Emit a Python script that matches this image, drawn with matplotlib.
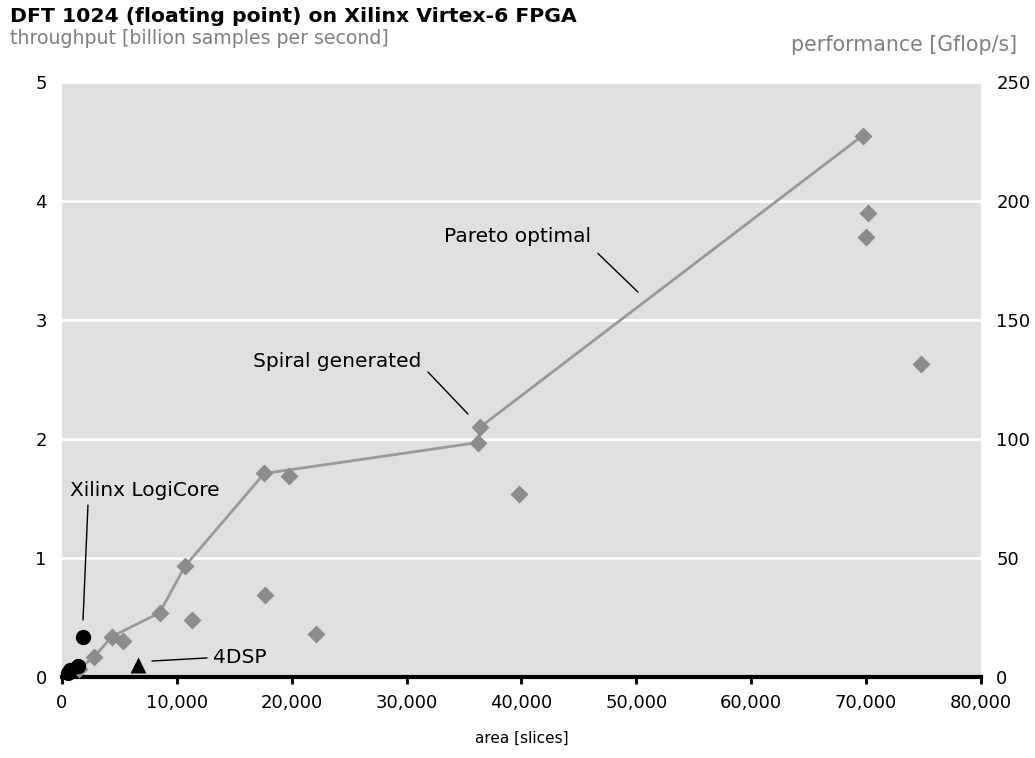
import matplotlib
matplotlib.use('Agg')
import matplotlib.pyplot as plt
from matplotlib.ticker import FuncFormatter

plt.rcParams['font.family'] = ['DejaVu Sans']

# Spiral generated designs on the Pareto front (area in slices, throughput in Gsamples/s)
pareto_area = [1500, 2800, 4350, 8500, 10700, 17600, 36200, 36400, 69700]
pareto_tput = [0.07, 0.17, 0.34, 0.54, 0.93, 1.71, 1.97, 2.10, 4.55]

# other Spiral generated designs
other_area = [5300, 11300, 17700, 19800, 22100, 39800, 70000, 70200, 74800]
other_tput = [0.30, 0.48, 0.69, 1.69, 0.36, 1.54, 3.70, 3.90, 2.63]

# Xilinx LogiCore
xil_area = [500, 700, 1400, 1800]
xil_tput = [0.03, 0.06, 0.09, 0.34]

# 4DSP
dsp_area = [6600]
dsp_tput = [0.10]

flop_factor = 50  # 5 N log2 N / N for N=1024

diamond = '#8c8c8c'
txtgray = '#808080'

fig = plt.figure(figsize=(10.35, 7.58), dpi=100)
ax = fig.add_axes([0.0599, 0.1069, 0.8879, 0.7849])
ax.set_facecolor('#e0e0e0')

ax.plot(pareto_area, pareto_tput, color='#999999', lw=2, zorder=2)
ax.plot(pareto_area, pareto_tput, 'D', color=diamond, ms=9, mec='none', zorder=3, clip_on=False)
ax.plot(other_area, other_tput, 'D', color=diamond, ms=9, mec='none', zorder=3)
ax.plot(xil_area, xil_tput, 'o', color='black', ms=11, mec='none', zorder=4, clip_on=False)
ax.plot(dsp_area, dsp_tput, '^', color='black', ms=12, mec='none', zorder=4)

ax.set_xlim(0, 80000)
ax.set_ylim(0, 5)
ax.set_xticks(range(0, 80001, 10000))
ax.xaxis.set_major_formatter(FuncFormatter(lambda v, p: '{:,.0f}'.format(v)))
ax.set_yticks(range(0, 6))
ax.yaxis.grid(True, color='white', lw=2)
ax.set_axisbelow(True)
for s in ['top', 'left', 'right']:
    ax.spines[s].set_visible(False)
ax.spines['bottom'].set_linewidth(3)
ax.tick_params(axis='x', direction='out', length=5, width=2, labelsize=13, pad=7)
ax.tick_params(axis='y', length=0, labelsize=13, pad=11)
ax.set_xlabel('area [slices]', fontsize=11, labelpad=14)

ax2 = ax.twinx()
ax2.set_ylim(0, 5 * flop_factor)
ax2.set_yticks(range(0, 251, 50))
ax2.tick_params(axis='y', length=0, labelsize=13, pad=11)
for s in ['top', 'left', 'right', 'bottom']:
    ax2.spines[s].set_visible(False)

# annotations: label text and leader line
labels = [
    ('Pareto optimal', (33250, 3.70), (46650, 3.56), (50140, 3.235)),
    ('Spiral generated', (16630, 2.655), (31860, 2.563), (35340, 2.21)),
    ('Xilinx LogiCore', (700, 1.571), (2260, 1.445), (1830, 0.479)),
    ('4DSP', (13140, 0.16), (12620, 0.16), (7830, 0.134)),
]
for txt, tpos, p0, p1 in labels:
    ax.text(tpos[0], tpos[1], txt, fontsize=14.5, ha='left', va='center', zorder=5)
    ax.annotate('', xy=p1, xytext=p0,
                arrowprops=dict(arrowstyle='-', color='black', lw=1, shrinkA=0, shrinkB=0))

fig.text(0.0097, 0.978, 'DFT 1024 (floating point) on Xilinx Virtex-6 FPGA',
         fontsize=14.7, fontweight='bold', va='center', ha='left')
fig.text(0.0097, 0.949, 'throughput [billion samples per second]',
         fontsize=13.6, color=txtgray, va='center', ha='left')
fig.text(0.9826, 0.940, 'performance [Gflop/s]',
         fontsize=14.8, color=txtgray, va='center', ha='right')

plt.savefig('out.png', dpi=100)
